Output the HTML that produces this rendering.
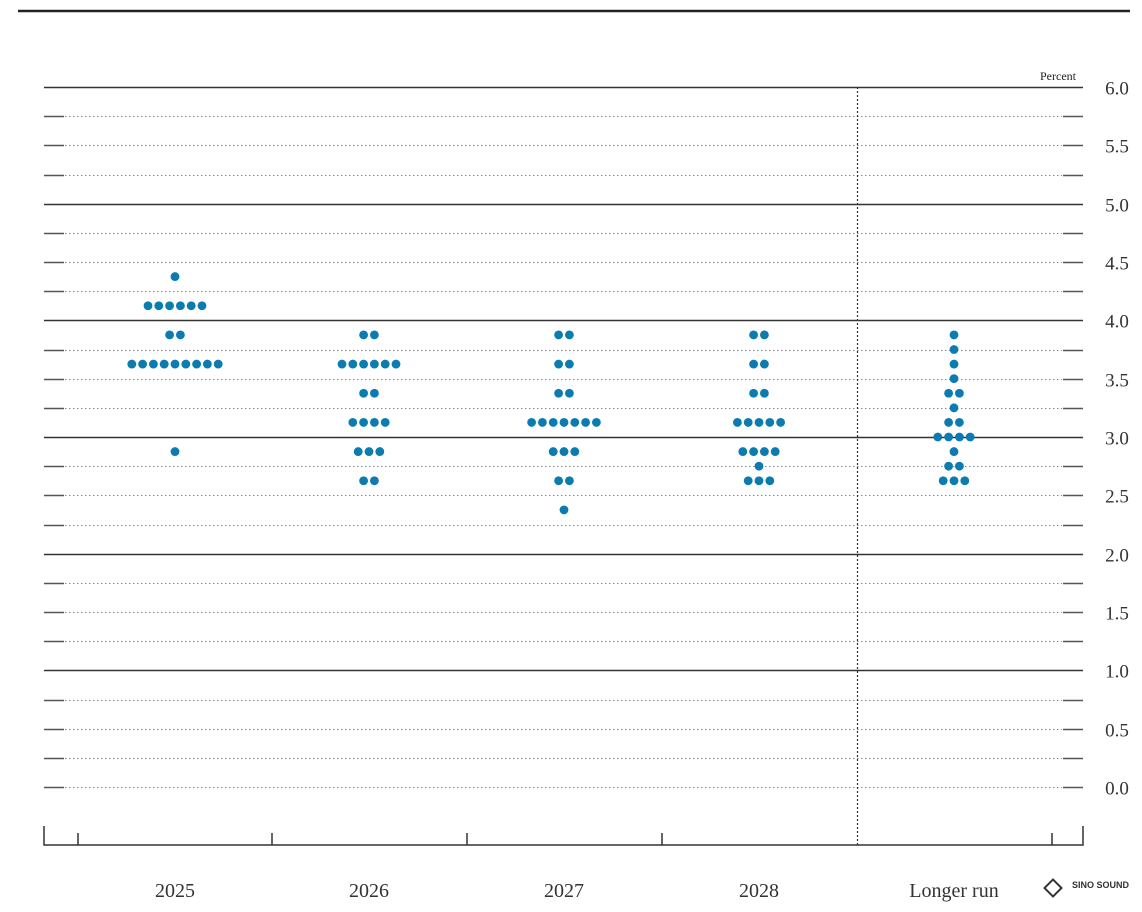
<!DOCTYPE html>
<html><head><meta charset="utf-8"><style>
html,body{margin:0;padding:0;background:#fff;}
svg{display:block;font-family:"Liberation Serif",serif;}
</style></head><body>
<svg id="s" width="1142" height="912" xmlns="http://www.w3.org/2000/svg">
<line x1="18" y1="11" x2="1130" y2="11" stroke="#222" stroke-width="2.5"/>
<text x="1058" y="80" font-size="12" text-anchor="middle" fill="#222">Percent</text>
<g id="grid"></g>
<line x1="857.5" y1="87" x2="857.5" y2="845" stroke="#333" stroke-width="1.2" stroke-dasharray="2,2"/>
<g stroke="#333" stroke-width="1.5" fill="none">
<polyline points="44,826 44,845 1083,845 1083,826"/>
<line x1="78" y1="833" x2="78" y2="845"/>
<line x1="272" y1="833" x2="272" y2="845"/>
<line x1="467" y1="833" x2="467" y2="845"/>
<line x1="662" y1="833" x2="662" y2="845"/>
<line x1="1052" y1="833" x2="1052" y2="845"/>
</g>
<g font-size="20" fill="#333" text-anchor="middle">
<text x="175" y="897">2025</text>
<text x="369" y="897">2026</text>
<text x="564" y="897">2027</text>
<text x="759" y="897">2028</text>
<text x="954" y="897">Longer run</text>
</g>
<g>
<rect x="1047" y="882" width="12" height="12" transform="rotate(45 1053 888)" fill="none" stroke="#333" stroke-width="2"/>
<text x="1072" y="888" font-family="Liberation Sans,sans-serif" font-size="9" font-weight="bold" fill="#333">SINO SOUND</text>
</g>
<g id="dots" fill="#0b7bb0"></g>
</svg>
<script>
var ns="http://www.w3.org/2000/svg";
function Y(v){return 87+(6-v)*116.667;}
var g=document.getElementById('grid');
function el(p,t,a){var e=document.createElementNS(ns,t);for(var k in a)e.setAttribute(k,a[k]);p.appendChild(e);return e;}
for(var i=0;i<=24;i++){var v=i*0.25,y=Math.round(Y(v))+0.5;
 if(i%4==0&&i>0){el(g,'line',{x1:44,x2:1083,y1:y,y2:y,stroke:'#333','stroke-width':1.5});}
 else{el(g,'line',{x1:44,x2:64,y1:y,y2:y,stroke:'#555','stroke-width':1.5});
  el(g,'line',{x1:1063,x2:1083,y1:y,y2:y,stroke:'#555','stroke-width':1.5});
  el(g,'line',{x1:65,x2:1062,y1:y,y2:y,stroke:'#888','stroke-width':1,'stroke-dasharray':'1.5,2.5'});}
 if(i%2==0){var t=el(g,'text',{x:1117,y:y+7,'font-size':19,'text-anchor':'middle',fill:'#333'});t.textContent=v.toFixed(1);}
}
var d=document.getElementById('dots');
var data=[[175,[[4.375,1],[4.125,6],[3.875,2],[3.625,9],[2.875,1]]],
[369,[[3.875,2],[3.625,6],[3.375,2],[3.125,4],[2.875,3],[2.625,2]]],
[564,[[3.875,2],[3.625,2],[3.375,2],[3.125,7],[2.875,3],[2.625,2],[2.375,1]]],
[759,[[3.875,2],[3.625,2],[3.375,2],[3.125,5],[2.875,4],[2.75,1],[2.625,3]]],
[954,[[3.875,1],[3.75,1],[3.625,1],[3.5,1],[3.375,2],[3.25,1],[3.125,2],[3.0,4],[2.875,1],[2.75,2],[2.625,3]]]];
data.forEach(function(c){c[1].forEach(function(r){var n=r[1];for(var k=0;k<n;k++){
 el(d,'circle',{cx:c[0]+(k-(n-1)/2)*10.8,cy:Y(r[0]),r:4.4});}});});
</script>
</body></html>
